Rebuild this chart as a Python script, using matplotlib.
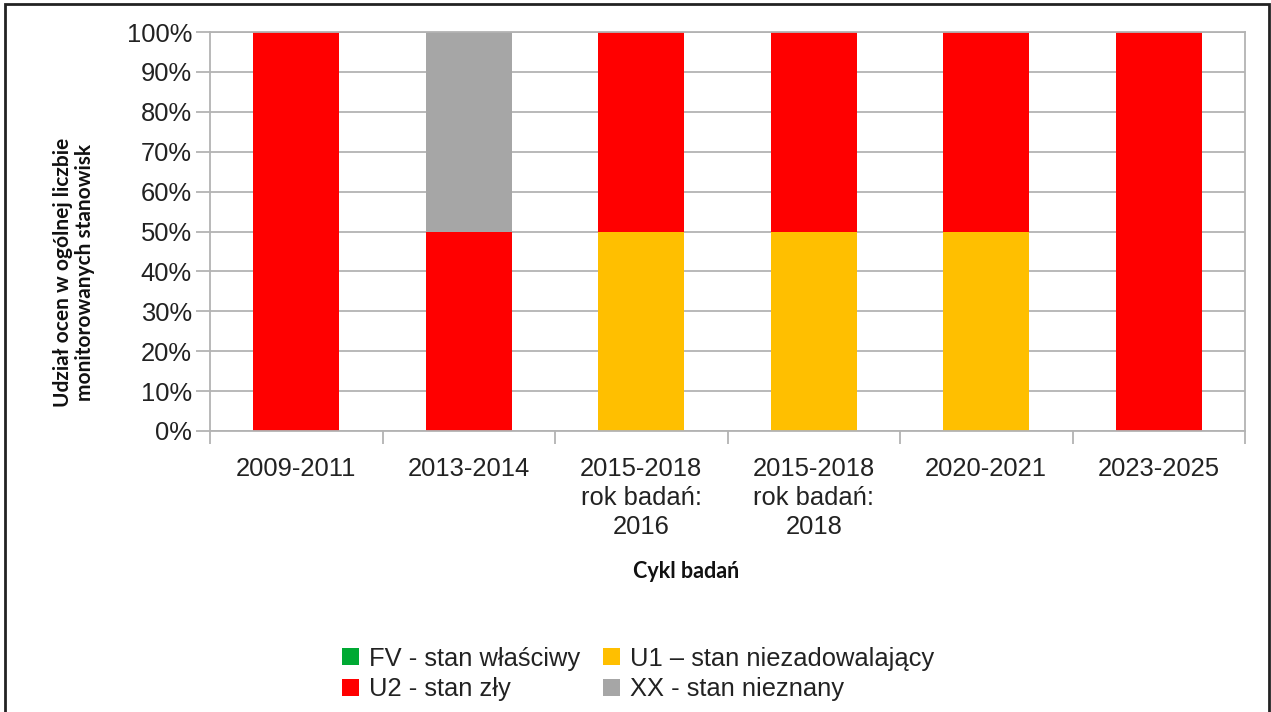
import matplotlib.pyplot as plt
from matplotlib.patches import Rectangle
from matplotlib.ticker import PercentFormatter

categories = ['2009-2011', '2013-2014', '2015-2018\nrok badań:\n2016',
              '2015-2018\nrok badań:\n2018', '2020-2021', '2023-2025']
fv = [0, 0, 0, 0, 0, 0]
u1 = [0, 0, 50, 50, 50, 0]
u2 = [100, 50, 50, 50, 50, 100]
xx = [0, 50, 0, 0, 0, 0]

series = [
    ('FV - stan właściwy', fv, '#00a933'),
    ('U1 – stan niezadowalający', u1, '#ffbf00'),
    ('U2 - stan zły', u2, '#ff0000'),
    ('XX - stan nieznany', xx, '#a6a6a6'),
]

plt.rcParams['font.family'] = ['Liberation Sans', 'DejaVu Sans']
W, H = 1271, 712
fs = 18.4
fig = plt.figure(figsize=(W / 100, H / 100), dpi=100)
ax = fig.add_axes([210 / W, 1 - 431 / H, (1245 - 210) / W, (431 - 32) / H])

x = range(len(categories))
bottom = [0] * len(categories)
handles = []
for name, vals, col in series:
    b = ax.bar(x, vals, 0.5, bottom=bottom, color=col, label=name, zorder=2)
    handles.append(b)
    bottom = [a + v for a, v in zip(bottom, vals)]

grid = '#b3b3b3'
ax.set_xlim(-0.5, len(categories) - 0.5)
ax.set_ylim(0, 100)
ax.set_yticks(range(0, 101, 10))
ax.yaxis.set_major_formatter(PercentFormatter(decimals=0))
ax.grid(axis='y', color=grid, linewidth=1.3, zorder=0)
for s in ax.spines.values():
    s.set_color(grid)
    s.set_linewidth(1.3)
ax.set_xticks([i - 0.5 for i in range(len(categories) + 1)], minor=False)
ax.set_xticklabels([])
ax.set_xticks(list(x), minor=True)
ax.set_xticklabels(categories, minor=True)
ax.tick_params(axis='x', which='major', length=9, color=grid, width=1.3)
ax.tick_params(axis='x', which='minor', length=0, pad=19, labelsize=fs, labelcolor='#222222')
ax.tick_params(axis='y', length=10, color=grid, width=1.3, pad=3, labelsize=fs, labelcolor='#222222')
for t in ax.get_xticklabels(minor=True):
    t.set_linespacing(1.25)

fig.text(74 / W, 1 - 272 / H, 'Udział ocen w ogólnej liczbie\nmonitorowanych stanowisk',
         rotation=90, ha='center', va='center', fontsize=15, fontweight='bold',
         family=['Lato', 'DejaVu Sans'], color='#111111', linespacing=1.15)
fig.text(686 / W, 1 - 571 / H, 'Cykl badań', ha='center', va='center', fontsize=15.5,
         fontweight='bold', family=['Lato', 'DejaVu Sans'], color='#111111')

order = [handles[0], handles[2], handles[1], handles[3]]
leg = fig.legend(handles=order, loc='center', bbox_to_anchor=(638 / W, 1 - 674 / H),
                 ncol=2, frameon=False, fontsize=fs, handlelength=0.65, handleheight=0.65,
                 handletextpad=0.4, columnspacing=0.9, labelspacing=0.25)
for t in leg.get_texts():
    t.set_color('#222222')

fig.patches.append(Rectangle((5 / W, -0.05), (1269 - 5) / W, 1.05 - 4 / H,
                             transform=fig.transFigure, fill=False,
                             edgecolor='#222222', linewidth=2))

fig.savefig('out.png', dpi=100)
